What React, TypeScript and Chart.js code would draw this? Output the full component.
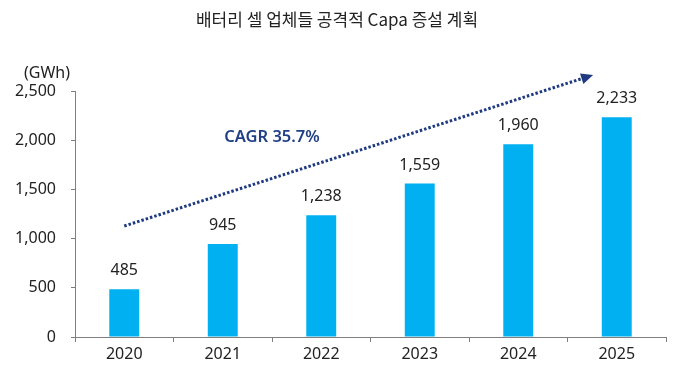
import React, { useEffect, useRef } from "react";
import { Chart, registerables } from "chart.js";

Chart.register(...registerables);

const title = "배터리 셀 업체들 공격적 Capa 증설 계획";
const unitLabel = "(GWh)";
const categories = ["2020", "2021", "2022", "2023", "2024", "2025"];
const capacity = [485, 945, 1238, 1559, 1960, 2233];
const cagrText = "CAGR 35.7%";
// trend arrow anchors: [category index, value]
const arrowStart = [0, 1128];
const arrowEnd = [4.76, 2663];
const yMax = 2500;
const yStep = 500;

const FONT = "'Noto Sans', 'Open Sans', sans-serif";
const TEXT = "#222222";
const NAVY = "#1F3A80";

const overlay = {
  id: "overlay",
  afterDraw(chart: any) {
    const ctx = chart.ctx;
    const x = chart.scales.x;
    const y = chart.scales.y;
    ctx.save();
    // title
    ctx.fillStyle = TEXT;
    ctx.font = "17px 'Noto Sans CJK KR', 'Noto Sans', sans-serif";
    ctx.textAlign = "center";
    ctx.textBaseline = "middle";
    ctx.fillText(title, 337, 20);
    // unit
    ctx.font = `16px ${FONT}`;
    ctx.textAlign = "center";
    ctx.fillText(unitLabel, 47, 73);
    // data labels
    const meta = chart.getDatasetMeta(0);
    ctx.textBaseline = "alphabetic";
    meta.data.forEach((bar: any, i: number) => {
      ctx.fillText(capacity[i].toLocaleString("en-US"), bar.x, bar.y - 14);
    });
    // arrow
    const x1 = x.getPixelForValue(arrowStart[0]);
    const y1 = y.getPixelForValue(arrowStart[1]);
    const x2 = x.getPixelForValue(arrowEnd[0]);
    const y2 = y.getPixelForValue(arrowEnd[1]);
    const ang = Math.atan2(y2 - y1, x2 - x1);
    const head = 12;
    const xe = x2 - Math.cos(ang) * head;
    const ye = y2 - Math.sin(ang) * head;
    ctx.strokeStyle = NAVY;
    ctx.lineWidth = 3;
    ctx.setLineDash([2.5, 2]);
    ctx.beginPath();
    ctx.moveTo(x1, y1);
    ctx.lineTo(xe, ye);
    ctx.stroke();
    ctx.setLineDash([]);
    ctx.fillStyle = NAVY;
    ctx.beginPath();
    ctx.moveTo(x2, y2);
    ctx.lineTo(xe + Math.cos(ang + Math.PI / 2) * 5.5, ye + Math.sin(ang + Math.PI / 2) * 5.5);
    ctx.lineTo(xe + Math.cos(ang - Math.PI / 2) * 5.5, ye + Math.sin(ang - Math.PI / 2) * 5.5);
    ctx.closePath();
    ctx.fill();
    // CAGR label
    ctx.fillStyle = "#203F86";
    ctx.font = `600 16.5px ${FONT}`;
    ctx.textAlign = "center";
    ctx.textBaseline = "middle";
    ctx.fillText(cagrText, 272, 137);
    ctx.restore();
  },
};

export default function App() {
  const ref = useRef<HTMLCanvasElement | null>(null);
  useEffect(() => {
    if (!ref.current) return;
    const chart = new Chart(ref.current, {
      type: "bar",
      data: {
        labels: categories,
        datasets: [
          {
            data: capacity,
            backgroundColor: "#00B0F0",
            barPercentage: 0.38,
            categoryPercentage: 0.8,
          },
        ],
      },
      options: {
        animation: false,
        responsive: false,
        maintainAspectRatio: false,
        layout: { padding: { left: 0, top: 91, right: 22, bottom: 0 } },
        plugins: {
          legend: { display: false },
          tooltip: { enabled: false },
          title: { display: false },
        },
        scales: {
          x: {
            afterFit: (s: any) => {
              s.height = 40;
            },
            grid: {
              offset: true,
              drawOnChartArea: false,
              drawTicks: true,
              tickLength: 5,
              color: "#7f7f7f",
            },
            border: { display: true, color: "#7f7f7f", width: 1 },
            ticks: { color: TEXT, font: { family: FONT, size: 16 }, padding: 3 },
          },
          y: {
            min: 0,
            max: yMax,
            afterFit: (s: any) => {
              s.width = 75;
            },
            grid: {
              drawOnChartArea: false,
              drawTicks: true,
              tickLength: 4,
              color: "#7f7f7f",
            },
            border: { display: true, color: "#7f7f7f", width: 1 },
            ticks: {
              stepSize: yStep,
              color: TEXT,
              font: { family: FONT, size: 16 },
              padding: 15,
              callback: (v: any) => Number(v).toLocaleString("en-US"),
            },
          },
        },
      },
      plugins: [overlay],
    });
    return () => chart.destroy();
  }, []);
  return (
    <div style={{ position: "absolute", left: 0, top: 0, width: 688, height: 377, background: "#fff" }}>
      <canvas ref={ref} width={688} height={377} style={{ width: 688, height: 377 }} />
    </div>
  );
}
